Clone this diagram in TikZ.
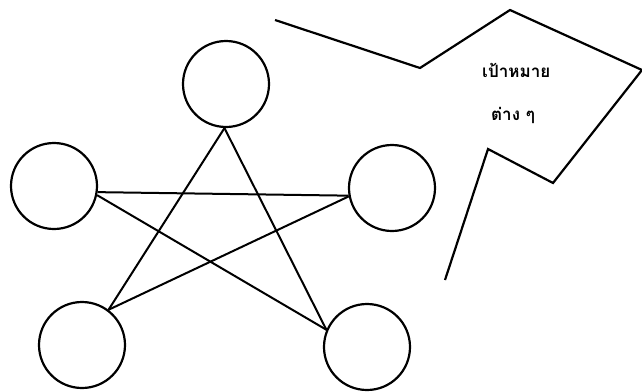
\documentclass[tikz,border=0pt]{standalone}
\usepackage{fontspec}
\newfontfamily\thaifont[Script=Thai]{Loma}
\begin{document}
\begin{tikzpicture}[x=1pt,y=-1pt,
  member/.style={circle,draw,line width=2.2pt,minimum size=86pt,inner sep=0pt},
  link/.style={line width=2pt},
  goal/.style={line width=2.2pt,line join=miter},
  lbl/.style={font=\thaifont\fontsize{17}{20}\selectfont\bfseries,anchor=west,inner sep=0pt}]
\useasboundingbox (0,0) rectangle (642,391);
\node[member] (t) at (226,84) {};
\node[member] (l) at (54,186) {};
\node[member] (r) at (392,188) {};
\node[member] (bl) at (82,345) {};
\node[member] (br) at (367,347) {};
\draw[link] (t.268) -- (bl.53);
\draw[link] (t.268) -- (br.157);
\draw[link] (l.-8) -- (r.190);
\draw[link] (l.-12) -- (br.157);
\draw[link] (bl.53) -- (r.191);
\coordinate (p1) at (275,20);
\coordinate (p2) at (420,68);
\coordinate (p3) at (510,10);
\coordinate (p4) at (642,70);
\coordinate (p5) at (553,183);
\coordinate (p6) at (488,149);
\coordinate (p7) at (445,280);
\draw[goal] (p1) -- (p2) -- (p3) -- (p4) -- (p5) -- (p6) -- (p7);
\node[lbl] (g1) at (482,70) {เป้าหมาย};
\node[lbl] (g2) at (491,115) {ต่าง ๆ};
\end{tikzpicture}
\end{document}
